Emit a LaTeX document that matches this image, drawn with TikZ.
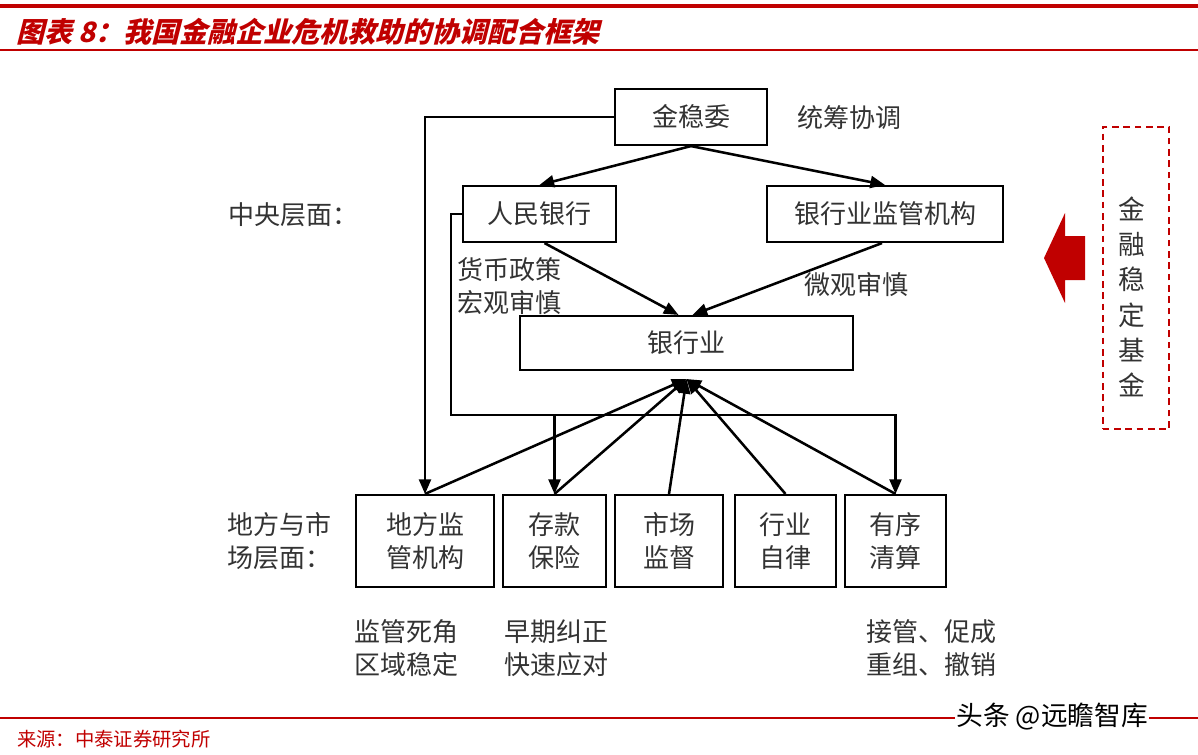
\documentclass[tikz,border=0pt]{standalone}
\usepackage{fontspec}
\usetikzlibrary{arrows.meta,calc}
\newfontfamily\cjk{Noto Sans CJK SC}
\newfontfamily\cjkt{Noto Sans CJK SC}[FakeSlant=0.25]
\definecolor{hred}{HTML}{C00000}
\definecolor{tgray}{HTML}{333333}
\begin{document}
\begin{tikzpicture}[x=0.75pt,y=-0.75pt,
  every node/.style={font=\cjk\fontsize{19.5}{25}\selectfont, text=tgray},
  box/.style={draw=black, line width=1.6pt, inner sep=0pt, align=center, minimum height=42pt},
  lbox/.style={draw=black, line width=1.6pt, inner sep=0pt, align=center, minimum height=69pt},
  lab/.style={anchor=west, inner sep=0pt, align=left},
  arr/.style={line width=1.9pt, -{Triangle[length=11pt,width=9pt]}},
  ln/.style={line width=1.9pt}]
\useasboundingbox (0,0) rectangle (1198,754);
% header and footer
\draw[hred, line width=2.4pt] (0,6) -- (1198,6);
\draw[hred, line width=1.3pt] (0,50) -- (1198,50);
\node[anchor=west, inner sep=0pt, text=hred, font=\cjkt\bfseries\fontsize{21}{24}\selectfont] (title) at (16,32) {图表 8：我国金融企业危机救助的协调配合框架};
\draw[hred, line width=1.1pt] (0,718) -- (1198,718);
\node[anchor=west, inner sep=0pt, text=hred, font=\cjk\fontsize{14.5}{17}\selectfont] (src) at (17,739) {来源：中泰证券研究所};
\node[anchor=west, inner sep=1pt, fill=white, text=black, font=\cjk\fontsize{20}{22}\selectfont] (wm) at (955,717) {头条 @远瞻智库};

% boxes
\node[box, minimum width=114pt] (jwh) at (691,117) {金稳委};
\node[box, minimum width=114.75pt] (rmyh) at (539.5,214) {人民银行};
\node[box, minimum width=177pt] (yhjg) at (885,214) {银行业监管机构};
\node[box, minimum width=249.75pt, minimum height=40.5pt] (yhy) at (686.5,343) {银行业};
\node[lbox, minimum width=103.5pt] (dfjg) at (425,541) {地方监\\管机构};
\node[lbox, minimum width=77.25pt] (ckbx) at (554.5,541) {存款\\保险};
\node[lbox, minimum width=81pt] (scjd) at (669,541) {市场\\监督};
\node[lbox, minimum width=75.75pt] (hyzl) at (785.5,541) {行业\\自律};
\node[lbox, minimum width=75.75pt] (yxqs) at (895.5,541) {有序\\清算};

% labels
\node[lab] (tcxt) at (797,118) {统筹协调};
\node[lab] (zyc) at (228,215) {中央层面：};
\node[lab] (hbzc) at (457,286) {货币政策\\宏观审慎};
\node[lab] (wgsz) at (804,285) {微观审慎};
\node[lab] (dfsc) at (227,541) {地方与市\\场层面：};
\node[lab] (jgsj) at (354,648) {监管死角\\区域稳定};
\node[lab] (zqjz) at (504,648) {早期纠正\\快速应对};
\node[lab] (jgcc) at (866,648) {接管、促成\\重组、撤销};

% fund
\node[draw=hred, dashed, line width=1.3pt, dash pattern=on 5pt off 3.5pt, minimum width=50pt, minimum height=226.5pt, inner sep=0pt] (fund) at (1136,278) {};
\node[align=center, inner sep=0pt, font=\cjk\fontsize{20}{26.5}\selectfont] (fundt) at ($(fund.center)+(-4,19)$) {金\\融\\稳\\定\\基\\金};
\fill[hred] (1044,258) -- (1065,213) -- (1065,236) -- (1085,236) -- (1085,280) -- (1065,280) -- (1065,303) -- cycle;

% connectors
\coordinate (hub) at (686.5,379);
\coordinate (bus) at (451,415);
\draw[arr] (jwh.south) -- (rmyh.north);
\draw[arr] (jwh.south) -- (yhjg.north);
\draw[arr] ($(rmyh.south)+(5,0)$) -- ($(yhy.north)+(-8,0)$);
\draw[arr] ($(yhjg.south)+(-3,0)$) -- ($(yhy.north)+(6,0)$);
\draw[arr] (jwh.west) -| (dfjg.north);
\draw[arr] (rmyh.west) -| (bus) -| (yxqs.north);
\draw[arr] (ckbx.north |- bus) -- (ckbx.north);
\foreach \b in {dfjg,ckbx,scjd,hyzl,yxqs}
  \draw[arr] (\b.north) -- (hub);
\end{tikzpicture}
\end{document}
